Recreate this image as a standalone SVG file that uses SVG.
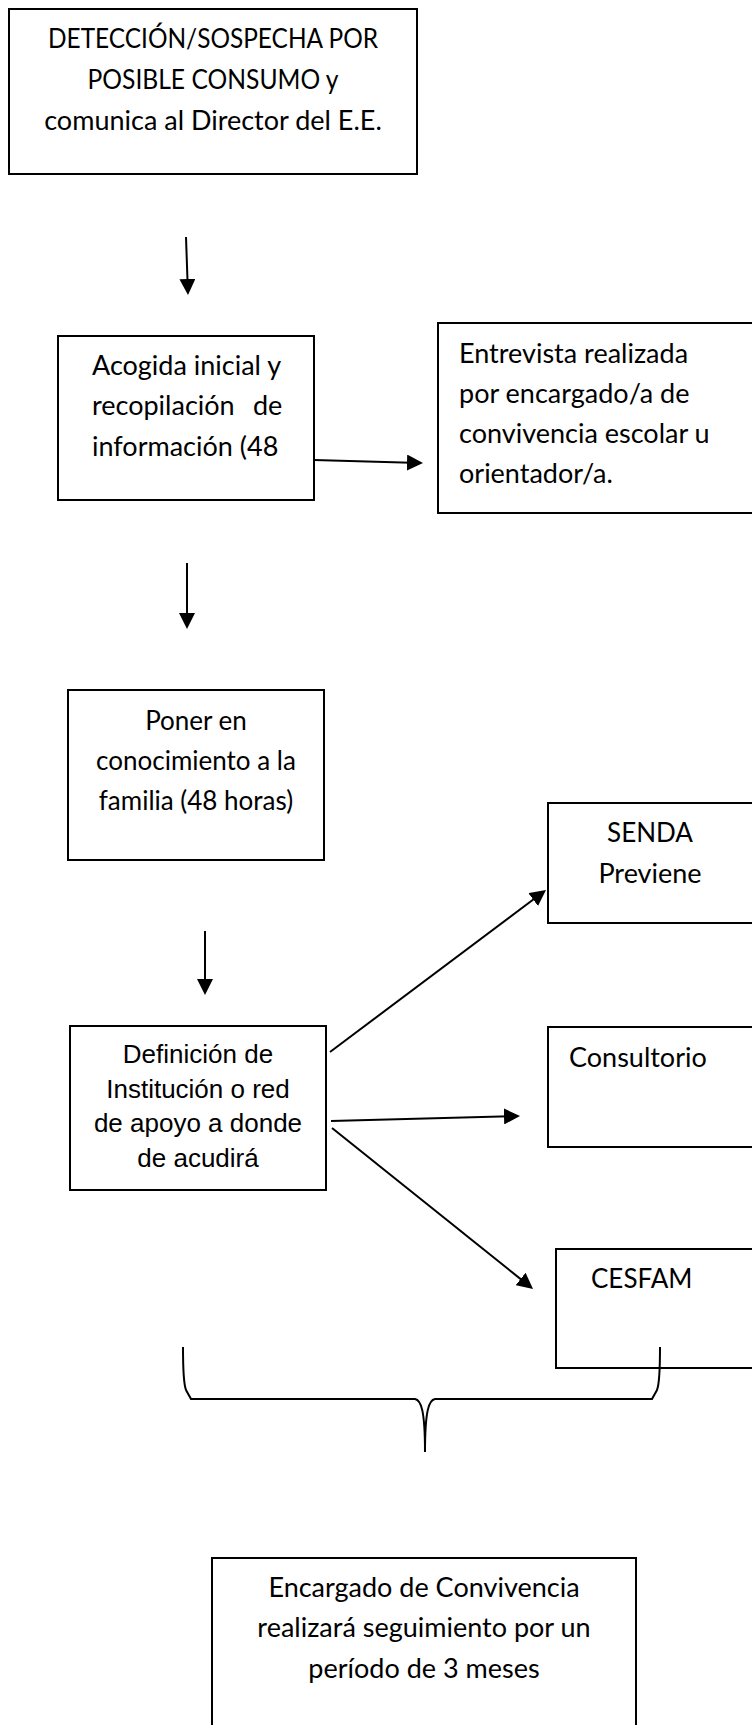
<svg xmlns="http://www.w3.org/2000/svg" width="752" height="1725" viewBox="0 0 752 1725">
<style>
.box{fill:#fff;stroke:#000;stroke-width:2}
.t{font-family:Lato,"Open Sans",sans-serif;font-size:27px;fill:#000}
.s{font-size:26px}
.c{text-anchor:middle}
.a{font-family:"Liberation Sans",Arial,sans-serif;font-size:26px;fill:#000;text-anchor:middle}
.ln{fill:none;stroke:#000;stroke-width:2}
</style>
<defs>
<marker id="ah" viewBox="0 0 16 16" refX="13" refY="8" markerWidth="16" markerHeight="16" markerUnits="userSpaceOnUse" orient="auto">
<path d="M0,0 L16,8 L0,16 z" fill="#000"/>
</marker>
</defs>
<rect width="752" height="1725" fill="#fff"/>
<g id="n1">
<rect class="box" x="9" y="9" width="408" height="165"/>
<text class="t c s" x="213" y="48" textLength="330" lengthAdjust="spacingAndGlyphs">DETECCIÓN/SOSPECHA POR</text>
<text class="t c s" x="213" y="89" textLength="251" lengthAdjust="spacingAndGlyphs">POSIBLE CONSUMO y</text>
<text class="t c" x="213" y="130">comunica al Director del E.E.</text>
</g>
<g id="n2">
<rect class="box" x="58" y="336" width="256" height="164"/>
<text class="t" x="92" y="375">Acogida inicial y</text>
<text class="t" y="415"><tspan x="92">recopilación</tspan><tspan x="253">de</tspan></text>
<text class="t" x="92" y="456">información (48</text>
</g>
<g id="n3">
<rect class="box" x="438" y="323" width="330" height="190"/>
<text class="t" x="459" y="363">Entrevista realizada</text>
<text class="t" x="459" y="403">por encargado/a de</text>
<text class="t" x="459" y="443">convivencia escolar u</text>
<text class="t" x="459" y="483">orientador/a.</text>
</g>
<g id="n4">
<rect class="box" x="68" y="690" width="256" height="170"/>
<text class="t c s" x="196" y="730">Poner en</text>
<text class="t c s" x="196" y="770">conocimiento a la</text>
<text class="t c s" x="196" y="810">familia (48 horas)</text>
</g>
<g id="n5">
<rect class="box" x="548" y="803" width="220" height="120"/>
<text class="t c s" x="650" y="842">SENDA</text>
<text class="t c" x="650" y="883">Previene</text>
</g>
<g id="n6">
<rect class="box" x="70" y="1026" width="256" height="164"/>
<text class="a" x="198" y="1063">Definición de</text>
<text class="a" x="198" y="1098">Institución o red</text>
<text class="a" x="198" y="1132">de apoyo a donde</text>
<text class="a" x="198" y="1167">de acudirá</text>
</g>
<g id="n7">
<rect class="box" x="548" y="1027" width="220" height="120"/>
<text class="t" x="569" y="1067">Consultorio</text>
</g>
<g id="n8">
<rect class="box" x="556" y="1249" width="212" height="119"/>
<text class="t s" x="591" y="1288">CESFAM</text>
</g>
<g id="n9">
<rect class="box" x="212" y="1558" width="424" height="180"/>
<text class="t c" x="424" y="1597">Encargado de Convivencia</text>
<text class="t c" x="424" y="1637">realizará seguimiento por un</text>
<text class="t c" x="424" y="1678">período de 3 meses</text>
</g>
<g id="connectors">
<line class="ln" x1="186" y1="237" x2="187.9" y2="292" marker-end="url(#ah)"/>
<line class="ln" x1="314" y1="460" x2="420" y2="462.9" marker-end="url(#ah)"/>
<line class="ln" x1="187" y1="563" x2="187" y2="626" marker-end="url(#ah)"/>
<line class="ln" x1="205" y1="931" x2="205" y2="992" marker-end="url(#ah)"/>
<line class="ln" x1="330" y1="1052" x2="543.6" y2="891.8" marker-end="url(#ah)"/>
<line class="ln" x1="331" y1="1121" x2="517" y2="1116.1" marker-end="url(#ah)"/>
<line class="ln" x1="332" y1="1128" x2="530.7" y2="1287.1" marker-end="url(#ah)"/>
<path class="ln" d="M183,1347 C183,1370 184,1385 186,1390 L191,1399 L415,1399 C421,1400 425,1410 425,1452 C425,1410 429,1400 435,1399 L652,1399 L657,1390 C659,1385 660,1370 660,1347"/>
</g>
</svg>
